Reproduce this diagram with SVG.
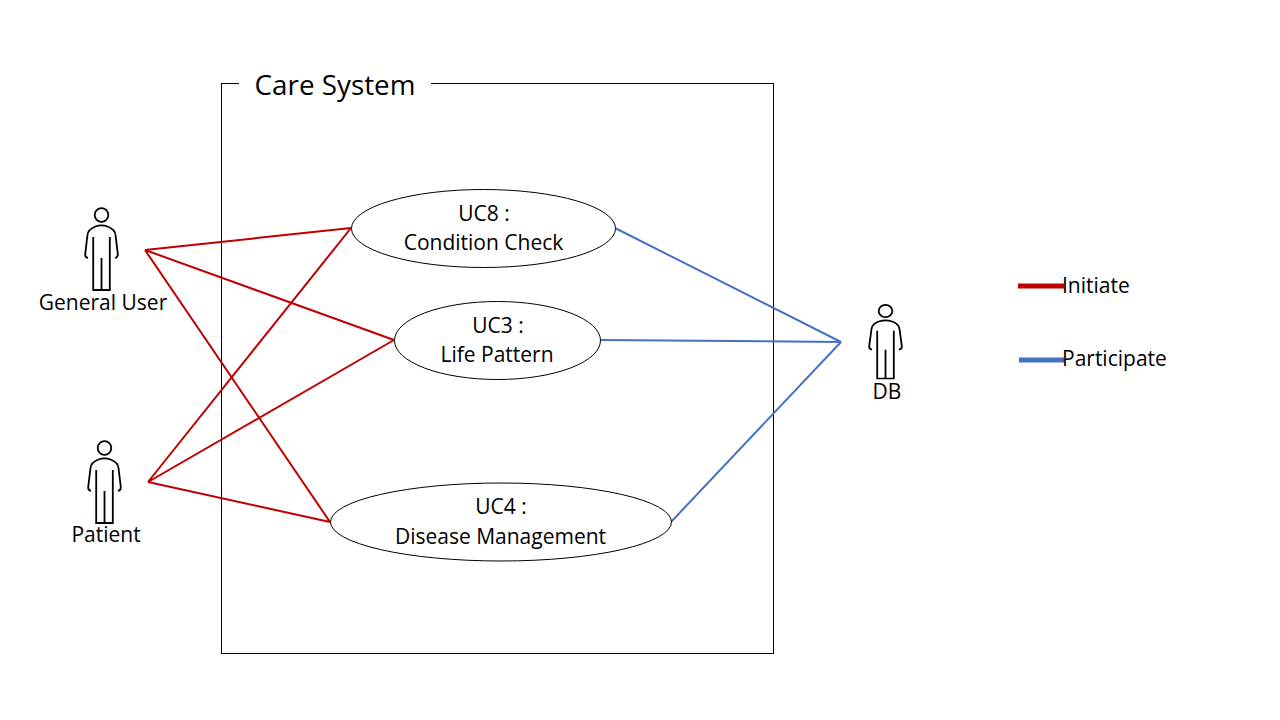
<svg xmlns="http://www.w3.org/2000/svg" width="1280" height="720" viewBox="0 0 1280 720">
<style>
text{font-family:"Open Sans","Noto Sans","Liberation Sans",sans-serif;font-size:21px;fill:#000;text-anchor:middle}
.uc{fill:#fff;stroke:#000;stroke-width:1}
.r{stroke:#c00000;stroke-width:2;fill:none}
.b{stroke:#4472c4;stroke-width:2;fill:none}
.a{fill:none;stroke:#000;stroke-width:1.800}
</style>
<defs>
<g id="actor">
<circle class="a" cx="0" cy="0" r="6.800"/>
<path class="a" d="M-13.500 43C-15.500 42.500 -16.500 41 -16.300 39L-14 20C-13.500 15 -10 13 -6 11.500C-2 10 2 10 6 11.500C10 13 13.500 15 14 20L16.300 39C16.500 41 15.500 42.500 13.500 43"/>
<path class="a" d="M-8.300 22V75H8.300V22M0 43V75"/>
</g>
</defs>
<rect x="221.500" y="83.500" width="552" height="570" fill="#fff" stroke="#000" stroke-width="1"/>
<rect x="239" y="70" width="192" height="30" fill="#fff"/>
<text x="335" y="95" style="font-size:27.800px" id="title">Care System</text>
<g id="connectors">
<path class="r" d="M145 250L351 228M145 250L394 340M145 250L330 522M148 482L351 228M148 482L394 340M148 482L330 522"/>
<path class="b" d="M615 228L841 342M600 340L841 342M671 522L841 342"/>
</g>
<g id="uc8"><ellipse class="uc" cx="483.500" cy="228.500" rx="132" ry="39"/><text x="484" y="221">UC8 :</text><text x="483.500" y="250">Condition Check</text></g>
<g id="uc3"><ellipse class="uc" cx="497.500" cy="340.500" rx="103" ry="39"/><text x="498" y="333">UC3 :</text><text x="497" y="362">Life Pattern</text></g>
<g id="uc4"><ellipse class="uc" cx="501" cy="522" rx="170.500" ry="39"/><text x="501" y="514">UC4 :</text><text x="500.500" y="544">Disease Management</text></g>
<g id="general-user"><use href="#actor" x="101.500" y="215"/><text x="103" y="310">General User</text></g>
<g id="patient"><use href="#actor" x="104.500" y="448"/><text x="106" y="542">Patient</text></g>
<g id="db"><use href="#actor" transform="translate(885.500 311) scale(1 .9)"/><text x="887" y="399">DB</text></g>
<g id="legend">
<path d="M1018 286H1064" stroke="#c00000" stroke-width="5" fill="none"/>
<path d="M1019 360H1064" stroke="#4472c4" stroke-width="5" fill="none"/>
<text x="1062" y="293" style="text-anchor:start">Initiate</text>
<text x="1062" y="366" style="text-anchor:start">Participate</text>
</g>
</svg>
